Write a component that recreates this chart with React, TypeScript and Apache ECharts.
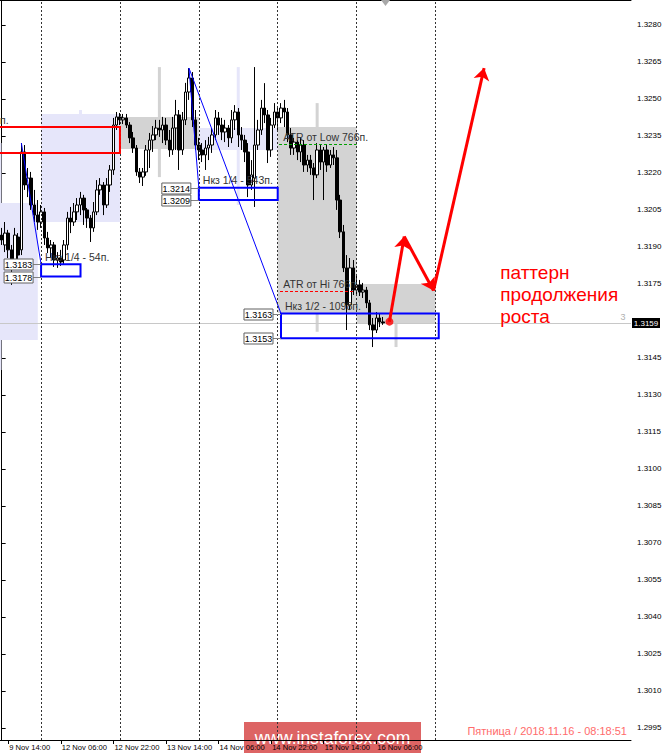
import React, { useEffect, useRef } from 'react';
import * as echarts from 'echarts';

const FONT = '"Liberation Sans", Arial, sans-serif';

// ---- categories (hourly bars) ----
const CATEGORY_DAYS = ['9 Nov', '12 Nov', '13 Nov', '14 Nov', '15 Nov', '16 Nov', '17 Nov', '18 Nov', '19 Nov'];
const FIRST_HOUR = 12;
const BAR_COUNT = 192;
const X_TICK_LABELS = ['9 Nov 14:00', '12 Nov 06:00', '12 Nov 22:00', '13 Nov 14:00', '14 Nov 06:00', '14 Nov 22:00', '15 Nov 14:00', '16 Nov 06:00'];
const SEPARATORS = ['12 Nov 00:00', '13 Nov 00:00', '14 Nov 00:00', '15 Nov 00:00', '16 Nov 00:00', '17 Nov 00:00'];

// ---- price axis ----
const Y_MIN = 1.29901;
const Y_MAX = 1.32901;
const Y_TICKS = [1.328, 1.3265, 1.325, 1.3235, 1.322, 1.3205, 1.319, 1.3175, 1.3145, 1.313, 1.3115, 1.31, 1.3085, 1.307, 1.3055, 1.304, 1.3025, 1.301, 1.2995];
const BID = 1.3159;

// ---- hourly candles ----
const OPEN = [1.31948, 1.31908, 1.31956, 1.31888, 1.31839, 1.3194, 1.31888, 1.32285, 1.32151, 1.32179, 1.3207, 1.32029,
  1.32001, 1.32042, 1.31936, 1.31896, 1.31908, 1.31847, 1.31855, 1.31847, 1.31908, 1.32017, 1.32001, 1.32042,
  1.3207, 1.32098, 1.3205, 1.32017, 1.31977, 1.32042, 1.32131, 1.32151, 1.3207, 1.32151, 1.32212, 1.32394,
  1.32427, 1.32415, 1.32423, 1.32394, 1.32342, 1.32301, 1.32204, 1.32183, 1.32204, 1.32293, 1.32333, 1.32354,
  1.32382, 1.32374, 1.32394, 1.32333, 1.32293, 1.32382, 1.32435, 1.32293, 1.32415, 1.32528, 1.32585, 1.32415,
  1.32313, 1.32293, 1.32273, 1.32301, 1.32313, 1.32354, 1.32423, 1.32394, 1.32366, 1.32382, 1.32342, 1.32415,
  1.32447, 1.32354, 1.32333, 1.32285, 1.32151, 1.32179, 1.32313, 1.32374, 1.32463, 1.32435, 1.32293, 1.32394,
  1.32447, 1.32423, 1.32463, 1.32447, 1.32354, 1.32301, 1.32325, 1.32285, 1.32313, 1.32232, 1.32252, 1.3222,
  1.32192, 1.32293, 1.32244, 1.32293, 1.32232, 1.32273, 1.32261, 1.3209, 1.31961, 1.31815, 1.31665, 1.31815,
  1.31725, 1.31746, 1.31717, 1.31725, 1.31673, 1.31584, 1.31563, 1.31612, 1.31596];
const CLOSE = [1.31928, 1.31956, 1.31888, 1.31839, 1.31948, 1.31867, 1.32285, 1.32151, 1.32179, 1.3207, 1.32029, 1.32001,
  1.32042, 1.31936, 1.31896, 1.31908, 1.31847, 1.31855, 1.31839, 1.31908, 1.32017, 1.32001, 1.32042, 1.3207,
  1.32098, 1.3205, 1.32017, 1.31977, 1.32042, 1.32131, 1.32151, 1.3207, 1.32151, 1.32212, 1.32394, 1.32427,
  1.32415, 1.32423, 1.32394, 1.32342, 1.32301, 1.32204, 1.32183, 1.32204, 1.32293, 1.32333, 1.32354, 1.32382,
  1.32374, 1.32394, 1.32333, 1.32293, 1.32382, 1.32435, 1.32293, 1.32415, 1.32528, 1.32585, 1.32415, 1.32313,
  1.32293, 1.32273, 1.32301, 1.32313, 1.32354, 1.32423, 1.32394, 1.32366, 1.32382, 1.32342, 1.32415, 1.32447,
  1.32354, 1.32333, 1.32285, 1.32151, 1.32192, 1.32313, 1.32374, 1.32463, 1.32435, 1.32293, 1.32394, 1.32447,
  1.32423, 1.32463, 1.32447, 1.32354, 1.32301, 1.32325, 1.32285, 1.32313, 1.32232, 1.32252, 1.3222, 1.32192,
  1.32293, 1.32244, 1.32293, 1.32232, 1.32273, 1.32261, 1.3209, 1.31961, 1.31815, 1.31665, 1.31815, 1.31725,
  1.31746, 1.31717, 1.31725, 1.31673, 1.31584, 1.31563, 1.31612, 1.31596, 1.31592];
const HIGH = [1.31977, 1.32001, 1.31969, 1.31908, 1.31977, 1.31956, 1.32321, 1.32313, 1.3222, 1.32204, 1.32131, 1.3209,
  1.3207, 1.32058, 1.31961, 1.31928, 1.3192, 1.31879, 1.31888, 1.31928, 1.32042, 1.32062, 1.32078, 1.32098,
  1.32123, 1.32111, 1.32058, 1.32029, 1.32082, 1.32171, 1.32179, 1.32163, 1.32179, 1.32232, 1.32423, 1.32447,
  1.32443, 1.32439, 1.32439, 1.32406, 1.32366, 1.32313, 1.3222, 1.3222, 1.32313, 1.32362, 1.3239, 1.32415,
  1.32415, 1.32427, 1.32423, 1.32374, 1.32427, 1.32496, 1.32455, 1.32447, 1.32565, 1.32625, 1.32609, 1.32455,
  1.32342, 1.32321, 1.32333, 1.32346, 1.32382, 1.32455, 1.32447, 1.32423, 1.32415, 1.32394, 1.32455, 1.32475,
  1.32463, 1.32386, 1.32354, 1.32321, 1.32252, 1.32629, 1.32415, 1.32496, 1.32564, 1.32455, 1.32423, 1.32483,
  1.32463, 1.32483, 1.32496, 1.32463, 1.32382, 1.32342, 1.32333, 1.32342, 1.32333, 1.32273, 1.32273, 1.3224,
  1.32321, 1.32313, 1.32305, 1.32313, 1.32293, 1.32305, 1.32293, 1.32111, 1.31989, 1.31867, 1.31855, 1.31847,
  1.31786, 1.31766, 1.31754, 1.31738, 1.31685, 1.31612, 1.31636, 1.31632, 1.31616];
const LOW = [1.31908, 1.31879, 1.31855, 1.31746, 1.31815, 1.31839, 1.31867, 1.32131, 1.32102, 1.3205, 1.32001, 1.31969,
  1.31977, 1.31908, 1.31875, 1.31855, 1.31819, 1.31815, 1.31823, 1.31831, 1.31888, 1.31956, 1.31985, 1.32009,
  1.32029, 1.31989, 1.31977, 1.3192, 1.31961, 1.32029, 1.32111, 1.32029, 1.32058, 1.32123, 1.32192, 1.32374,
  1.32394, 1.32398, 1.32382, 1.32321, 1.32281, 1.32188, 1.32159, 1.32147, 1.32188, 1.3222, 1.32285, 1.32333,
  1.32346, 1.32321, 1.32313, 1.32265, 1.32273, 1.32293, 1.32212, 1.32273, 1.32394, 1.32496, 1.32386, 1.32293,
  1.32252, 1.32244, 1.32212, 1.32252, 1.32281, 1.32333, 1.32354, 1.32333, 1.32325, 1.32305, 1.32321, 1.32374,
  1.32305, 1.32293, 1.32244, 1.32102, 1.32131, 1.32062, 1.32293, 1.32354, 1.32402, 1.3224, 1.32265, 1.32382,
  1.32374, 1.32402, 1.32386, 1.32325, 1.32273, 1.32273, 1.32252, 1.32244, 1.32204, 1.32204, 1.32192, 1.3209,
  1.32179, 1.32212, 1.3209, 1.32204, 1.3222, 1.32232, 1.3205, 1.31936, 1.31798, 1.31563, 1.31644, 1.31705,
  1.31705, 1.31701, 1.31693, 1.31652, 1.31563, 1.31494, 1.31551, 1.31575, 1.31584];

// ---- daily background candles (bar index span) ----
const DAY_START = [-12, 12, 36, 60, 84, 108];
const DAY_END = [11, 36, 60, 84, 108, 132];
const DAY_OPEN = [1.31523, 1.32001, 1.32427, 1.32293, 1.32386, 1.3175];
const DAY_CLOSE = [1.32078, 1.32439, 1.32297, 1.32382, 1.31632, 1.31588];
const DAY_HIGH = [1.32321, 1.32455, 1.32629, 1.32629, 1.32483, 1.3175];
const DAY_LOW = [1.31401, 1.32001, 1.32183, 1.3207, 1.31556, 1.31494];

// ---- zones ----
const ZONE_START = [-20, 12, 60, 85];
const ZONE_END = [36, 24, 84, 133];
const ZONE_TOP = [1.32386, 1.3183, 1.3214, 1.3163];
const ZONE_BOTTOM = [1.32281, 1.3178, 1.3209, 1.3153];
const ZONE_COLOR = ['#ff0000', '#0000ff', '#0000ff', '#0000ff'];

// ---- price tags ----
const TAG_X = [12, 12, 60, 60, 85, 85];
const TAG_PRICE = [1.3183, 1.3178, 1.3214, 1.3209, 1.3163, 1.3153];

// ---- trend lines ----
const TREND_FROM_X = [6, 57, 57];
const TREND_FROM_Y = [1.32321, 1.32625, 1.32625];
const TREND_TO_X = [12, 60, 85];
const TREND_TO_Y = [1.3183, 1.3214, 1.3163];

// ---- ATR levels ----
const ATR_START = [84.4, 84.7];
const ATR_END = [108, 107.5];
const ATR_LEVEL = [1.32317, 1.31719];
const ATR_COLOR = ['#00a000', '#ff0000'];

// ---- forecast path ----
const PATH_X = [118, 122.5, 131.4, 146.8];
const PATH_Y = [1.31597, 1.31942, 1.31723, 1.32625];

// ---- notes ----
const NOTE_TEXT = ['п.', 'Нкз 1/4 - 54п.', 'Нкз 1/4 - 543п.', 'Нкз 1/2 - 1098п.', 'ATR от Low 766п.', 'ATR от Hi 766п.'];
const NOTE_X = [-1.7, 12, 60, 85, 84.5, 84.5];
const NOTE_Y = [1.32386, 1.3183, 1.3214, 1.3163, 1.32317, 1.31719];

const PATTERN_TEXT = 'паттерн\nпродолжения\nроста';
const PATTERN_X = 151.7;
const PATTERN_Y = 1.3184;

const CLOCK_TEXT = 'Пятница / 2018.11.16 - 08:18:51';

function buildCategories(): string[] {
  const out: string[] = [];
  CATEGORY_DAYS.forEach((d, di) => {
    for (let h = di === 0 ? FIRST_HOUR : 0; h < 24; h++) {
      if (out.length < BAR_COUNT) out.push(`${d} ${String(h).padStart(2, '0')}:00`);
    }
  });
  return out;
}

function buildOption() {
  const categories = buildCategories();
  const showTick = (index: number) => X_TICK_LABELS.includes(categories[index]);
  const candles = OPEN.map((o, i) => [o, CLOSE[i], LOW[i], HIGH[i]]);

  return {
    animation: false,
    grid: { left: 0, top: 0, width: 631, height: 740, containLabel: false },
    xAxis: [
      {
        type: 'category',
        data: categories,
        boundaryGap: true,
        axisLine: { show: true, lineStyle: { color: '#000', width: 1 } },
        axisTick: { show: true, interval: showTick, alignWithLabel: true, length: 4, lineStyle: { color: '#000' } },
        axisLabel: { interval: showTick, align: 'left', margin: 3, fontSize: 7.6, color: '#000', fontFamily: FONT, padding: [0, 0, 0, 1] },
        splitLine: { show: false },
      },
      {
        type: 'value',
        min: -0.5,
        max: BAR_COUNT - 0.5,
        position: 'top',
        axisLine: { show: true, onZero: false, lineStyle: { color: '#000', width: 1 } },
        axisTick: { show: false },
        axisLabel: { show: false },
        splitLine: { show: false },
      },
    ],
    yAxis: {
      type: 'value',
      position: 'right',
      min: Y_MIN,
      max: Y_MAX,
      axisLine: { show: true, lineStyle: { color: '#000', width: 1 } },
      axisTick: { show: true, customValues: Y_TICKS, length: 4, lineStyle: { color: '#000' } },
      axisLabel: { customValues: Y_TICKS, formatter: (v: number) => v.toFixed(4), fontSize: 8, margin: 6, color: '#000', fontFamily: FONT },
      splitLine: { show: false },
    },
    series: [
      {
        type: 'custom',
        name: 'daily',
        xAxisIndex: 1,
        yAxisIndex: 0,
        z: 1,
        silent: true,
        data: DAY_START.map((s, i) => [s, DAY_END[i], DAY_OPEN[i], DAY_CLOSE[i], DAY_LOW[i], DAY_HIGH[i]]),
        renderItem: (params: any, api: any) => {
          const s = api.value(0), e = api.value(1), o = api.value(2), c = api.value(3), l = api.value(4), h = api.value(5);
          const color = c >= o ? '#e6e6fa' : '#d3d3d3';
          const a = api.coord([s, Math.max(o, c)]);
          const b = api.coord([e, Math.min(o, c)]);
          const wt = api.coord([(s + e) / 2, h]);
          const wb = api.coord([(s + e) / 2, l]);
          return {
            type: 'group',
            children: [
              { type: 'rect', shape: { x: wt[0] - 1.5, y: wt[1], width: 3, height: wb[1] - wt[1] }, style: { fill: color } },
              { type: 'rect', shape: { x: a[0], y: a[1], width: b[0] - a[0], height: b[1] - a[1] }, style: { fill: color } },
            ],
          };
        },
      },
      {
        type: 'lines',
        name: 'bid',
        coordinateSystem: 'cartesian2d',
        xAxisIndex: 1,
        yAxisIndex: 0,
        z: 2,
        silent: true,
        symbol: ['none', 'none'],
        lineStyle: { color: '#c8c8c8', width: 1, opacity: 1 },
        data: [{ coords: [[-0.5, BID], [BAR_COUNT - 0.5, BID]] }],
      },
      {
        type: 'candlestick',
        name: 'GBPUSD',
        xAxisIndex: 0,
        yAxisIndex: 0,
        z: 3,
        barWidth: 3,
        data: candles,
        itemStyle: { color: '#ffffff', color0: '#000000', borderColor: '#000000', borderColor0: '#000000', borderWidth: 1 },
        markLine: {
          silent: true,
          symbol: ['none', 'none'],
          animation: false,
          label: { show: false },
          lineStyle: { type: [2, 2], color: '#333', width: 1 },
          data: SEPARATORS.map((s) => ({ xAxis: s })),
        },
      },
      {
        type: 'custom',
        name: 'bidTag',
        xAxisIndex: 1,
        yAxisIndex: 0,
        z: 20,
        silent: true,
        clip: false,
        data: [[BAR_COUNT - 0.5, BID]],
        renderItem: (params: any, api: any) => {
          const p = api.coord([api.value(0), api.value(1)]);
          const y = Math.round(p[1]);
          return {
            type: 'group',
            children: [
              { type: 'rect', shape: { x: p[0] + 1, y: y - 5, width: 28, height: 10 }, style: { fill: '#000' } },
              {
                type: 'text',
                style: {
                  text: BID.toFixed(4), x: p[0] + 15, y: y + 0.5,
                  align: 'center', verticalAlign: 'middle', textAlign: 'center', textVerticalAlign: 'middle',
                  fontSize: 8, fontFamily: FONT, fill: '#fff',
                },
              },
            ],
          };
        },
      },
      {
        type: 'custom',
        name: 'zones',
        xAxisIndex: 1,
        yAxisIndex: 0,
        z: 5,
        silent: true,
        data: ZONE_START.map((s, i) => [s, ZONE_END[i], ZONE_TOP[i], ZONE_BOTTOM[i]]),
        renderItem: (params: any, api: any) => {
          const a = api.coord([api.value(0), api.value(2)]);
          const b = api.coord([api.value(1), api.value(3)]);
          return {
            type: 'rect',
            shape: { x: a[0], y: a[1], width: b[0] - a[0], height: b[1] - a[1] },
            style: { fill: 'none', stroke: ZONE_COLOR[params.dataIndex], lineWidth: 2 },
          };
        },
      },
      {
        type: 'custom',
        name: 'tags',
        xAxisIndex: 1,
        yAxisIndex: 0,
        z: 6,
        silent: true,
        data: TAG_X.map((x, i) => [x, TAG_PRICE[i]]),
        renderItem: (params: any, api: any) => {
          const p = api.coord([api.value(0), api.value(1)]);
          const right = p[0] - 8;
          const y = Math.round(p[1]) + 0.5;
          return {
            type: 'group',
            children: [
              { type: 'line', shape: { x1: right, y1: y, x2: p[0], y2: y }, style: { stroke: '#808080', lineWidth: 1 } },
              { type: 'rect', shape: { x: right - 29, y: y - 5.5, width: 29, height: 11 }, style: { fill: '#fff', stroke: '#606060', lineWidth: 1 } },
              {
                type: 'text',
                style: {
                  text: TAG_PRICE[params.dataIndex].toFixed(4), x: right - 14.5, y: y + 0.5,
                  align: 'center', verticalAlign: 'middle', textAlign: 'center', textVerticalAlign: 'middle',
                  fontSize: 9, fontFamily: FONT, fill: '#000',
                },
              },
            ],
          };
        },
      },
      {
        type: 'lines',
        name: 'trend',
        coordinateSystem: 'cartesian2d',
        xAxisIndex: 1,
        yAxisIndex: 0,
        z: 4,
        silent: true,
        symbol: ['none', 'none'],
        lineStyle: { color: '#0000ff', width: 1, opacity: 1 },
        data: TREND_FROM_X.map((x, i) => ({ coords: [[x, TREND_FROM_Y[i]], [TREND_TO_X[i], TREND_TO_Y[i]]] })),
      },
      {
        type: 'lines',
        name: 'atr',
        coordinateSystem: 'cartesian2d',
        xAxisIndex: 1,
        yAxisIndex: 0,
        z: 4,
        silent: true,
        symbol: ['none', 'none'],
        data: ATR_START.map((s, i) => ({
          coords: [[s, ATR_LEVEL[i]], [ATR_END[i], ATR_LEVEL[i]]],
          lineStyle: { color: ATR_COLOR[i], width: 1, type: [3, 2], opacity: 1 },
        })),
      },
      {
        type: 'lines',
        name: 'forecast',
        coordinateSystem: 'cartesian2d',
        xAxisIndex: 1,
        yAxisIndex: 0,
        z: 8,
        silent: true,
        symbol: ['none', 'arrow'],
        symbolSize: 12,
        lineStyle: { color: '#ff0000', width: 3, opacity: 1 },
        itemStyle: { color: '#ff0000' },
        data: PATH_X.slice(0, -1).map((x, i) => ({ coords: [[x, PATH_Y[i]], [PATH_X[i + 1], PATH_Y[i + 1]]] })),
      },
      {
        type: 'scatter',
        name: 'start',
        xAxisIndex: 1,
        yAxisIndex: 0,
        z: 9,
        silent: true,
        symbol: 'circle',
        symbolSize: 8,
        itemStyle: { color: '#ff0000' },
        data: [[PATH_X[0], PATH_Y[0]]],
      },
      {
        type: 'custom',
        name: 'notes',
        xAxisIndex: 1,
        yAxisIndex: 0,
        z: 7,
        silent: true,
        data: NOTE_X.map((x, i) => [x, NOTE_Y[i]]),
        renderItem: (params: any, api: any) => {
          const p = api.coord([api.value(0), api.value(1)]);
          return {
            type: 'text',
            style: {
              text: NOTE_TEXT[params.dataIndex], x: p[0] + 4, y: p[1] - 2,
              align: 'left', verticalAlign: 'bottom', textAlign: 'left', textVerticalAlign: 'bottom',
              fontSize: 10.5, fontFamily: FONT, fill: '#333',
            },
          };
        },
      },
      {
        type: 'custom',
        name: 'pattern',
        xAxisIndex: 1,
        yAxisIndex: 0,
        z: 7,
        silent: true,
        data: [[PATTERN_X, PATTERN_Y]],
        renderItem: (params: any, api: any) => {
          const p = api.coord([api.value(0), api.value(1)]);
          return {
            type: 'text',
            style: {
              text: PATTERN_TEXT, x: p[0], y: p[1],
              align: 'left', verticalAlign: 'top', textAlign: 'left', textVerticalAlign: 'top',
              fontSize: 19, lineHeight: 22, fontFamily: FONT, fill: '#ff0000',
            },
          };
        },
      },
    ],
    graphic: [
      { type: 'polygon', silent: true, z: 50, shape: { points: [[381, 0], [390, 0], [385.5, 6]] }, style: { fill: '#a8a8a8' } },
      {
        type: 'text', silent: true, z: 50,
        style: { text: '3', x: 623, y: 317, align: 'center', verticalAlign: 'middle', textAlign: 'center', textVerticalAlign: 'middle', fontSize: 9, fontFamily: FONT, fill: '#b0b0b0' },
      },
      {
        type: 'text', silent: true, z: 50,
        style: { text: CLOCK_TEXT, x: 627, y: 731, align: 'right', verticalAlign: 'middle', textAlign: 'right', textVerticalAlign: 'middle', fontSize: 11, fontFamily: FONT, fill: '#ff6b6b' },
      },
      {
        type: 'group', silent: true, z: 60,
        children: [
          { type: 'rect', shape: { x: 244, y: 722, width: 177, height: 31 }, style: { fill: 'rgba(208,40,40,0.72)' } },
          {
            type: 'text',
            style: { text: 'www.instaforex.com', x: 332.5, y: 738, align: 'center', verticalAlign: 'middle', textAlign: 'center', textVerticalAlign: 'middle', fontSize: 17.5, fontFamily: FONT, fill: '#ffffff' },
          },
        ],
      },
    ],
  };
}

export default function App() {
  const ref = useRef<HTMLDivElement>(null);
  useEffect(() => {
    document.body.style.margin = '0';
    const chart = echarts.init(ref.current as HTMLDivElement, null, { renderer: 'svg' });
    chart.setOption(buildOption() as any);
    return () => chart.dispose();
  }, []);
  return <div ref={ref} style={{ width: 665, height: 753, background: '#fff' }} />;
}
